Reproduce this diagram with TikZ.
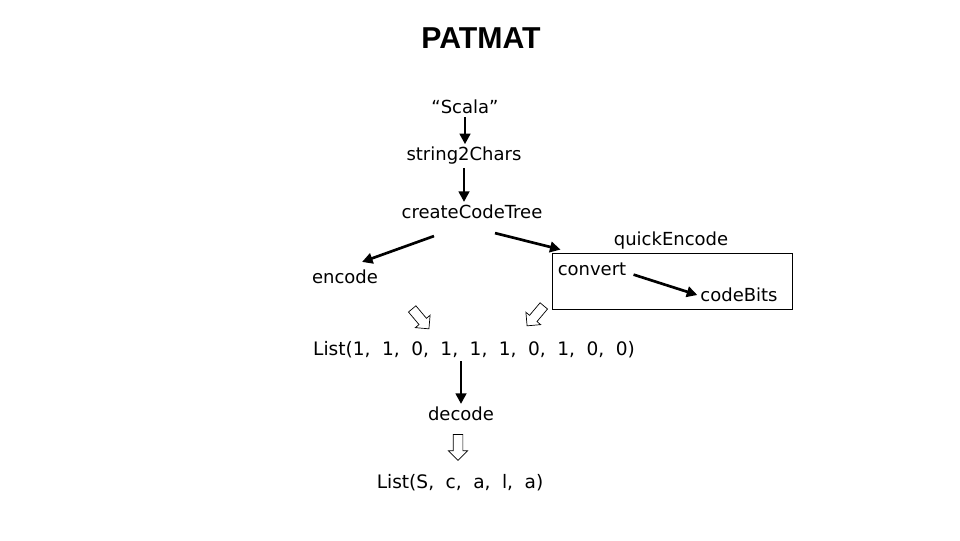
\documentclass[tikz,border=0pt]{standalone}
\usepackage{fontspec}
\setmainfont{DejaVu Sans}
\newfontfamily\titlefont{Liberation Sans}
\newfontfamily\listfont{DejaVu Sans}[WordSpace=1.95]
\usetikzlibrary{calc,arrows.meta,shapes.arrows}

\tikzset{
  lbl/.style={font=\fontsize{12.8}{15}\selectfont, inner sep=2pt},
  biglbl/.style={font=\listfont\fontsize{13.2}{16}\selectfont, inner sep=2pt},
  conn/.style={line width=1.9pt, -{Triangle[length=7.5pt,width=7.5pt]}},
  hollow/.style={single arrow, draw, line width=0.5pt, inner sep=3.2pt,
    minimum height=18.5pt, single arrow head extend=3.4pt},
}

\begin{document}
\begin{tikzpicture}[x=0.025cm,y=-0.025cm]
    \useasboundingbox (0,0) rectangle (960,540);

    \node[font=\titlefont\bfseries\fontsize{21.5}{24}\selectfont] (title) at (481,38) {PATMAT};

    \node[lbl] (scala) at (465,107) {“Scala”};
    \node[lbl] (s2c) at (464,156) {string2Chars};
    \node[lbl] (tree) at (472,212) {createCodeTree};
    \node[lbl] (enc) at (345,277) {encode};
    \node[lbl] (quick) at (671,241) {quickEncode};
    \node[draw, line width=0.6pt, minimum width=170.7pt, minimum height=39.8pt,
      inner sep=0pt] (box) at (672,281) {};
    \node[lbl] (conv) at (592,269) {convert};
    \node[lbl] (bits) at (739,295) {codeBits};
    \node[biglbl] (bitlist) at (474,350) {List(1, 1, 0, 1, 1, 1, 0, 1, 0, 0)};
    \node[lbl] (dec) at (461,414) {decode};
    \node[biglbl] (chars) at (460,483) {List(S, c, a, l, a)};

    % hollow arrows
    \node[hollow, rotate=-50] (h1) at (419,317) {};
    \node[hollow, rotate=-130] (h2) at (537,314) {};
    \node[hollow, rotate=-90] (h3) at (458,445) {};

    \coordinate (tl) at ($(tree.south)+(-38,14)$);
    \coordinate (tr) at ($(tree.south)+(23,11)$);

    \draw[conn] (scala.south) -- (scala.south |- s2c.north);
    \draw[conn] (s2c.south) -- (s2c.south |- tree.north);
    \draw[conn] (tl) -- ($(enc.north)+(17,-5)$);
    \draw[conn] (tr) -- ($(box.north west)+(9,-3)$);
    \draw[conn] ([xshift=3pt,yshift=-4pt]conv.east) -- (bits.west);
    \draw[conn] (bitlist.south -| dec.north) -- (dec.north);
\end{tikzpicture}
\end{document}
